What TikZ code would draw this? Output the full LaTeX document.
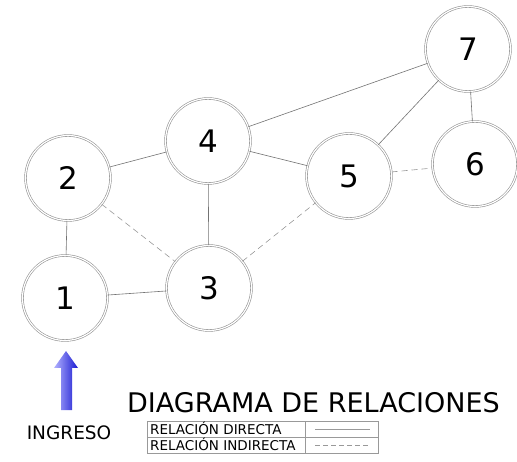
\documentclass[tikz,border=0pt]{standalone}
\usepackage{fontspec}
\setmainfont{DejaVu Sans}
\begin{document}
\begin{tikzpicture}[x=1pt,y=-1pt,
  nodo/.style={circle,draw=gray!85,line width=0.6pt,double=white,double distance=1.2pt,minimum size=85pt,inner sep=0pt,font=\fontsize{31}{31}\selectfont},
  directa/.style={draw=gray!90!black,line width=0.6pt},
  indirecta/.style={draw=gray!80,line width=0.6pt,dash pattern=on 6pt off 4pt},
  tabla/.style={draw=gray!80,line width=0.6pt}]
\useasboundingbox (0,0) rectangle (517,462);
\node[nodo] (n1) at (65,298) {1};
\node[nodo] (n2) at (68,178) {2};
\node[nodo] (n3) at (209,288) {3};
\node[nodo] (n4) at (208,141) {4};
\node[nodo] (n5) at (349,176) {5};
\node[nodo] (n6) at (475,164) {6};
\node[nodo] (n7) at (468,49) {7};
\draw[directa] (n1) -- (n2);
\draw[directa] (n1) -- (n3);
\draw[directa] (n2) -- (n4);
\draw[directa] (n4) -- (n3);
\draw[directa] (n4) -- (n5);
\draw[directa] (n4) -- (n7);
\draw[directa] (n5) -- (n7);
\draw[directa] (n7) -- (n6);
\draw[indirecta] (n2) -- (n3);
\draw[indirecta] (n3) -- (n5);
\draw[indirecta] (n5) -- (n6);
% arrow
\shade[left color=blue!30!white,right color=blue!80!black!90!white]
  (61,410) -- (61,368) -- (54,368) -- (66,351) -- (78,368) -- (72,368) -- (72,410) -- cycle;
\node[anchor=base,font=\fontsize{18.5}{18.5}\selectfont,inner sep=0pt] (ingreso) at (69,439) {INGRESO};
\node[anchor=base west,font=\fontsize{27}{27}\selectfont,inner sep=0pt] (titulo) at (127,413) {DIAGRAMA DE RELACIONES};
% table
\draw[tabla] (147,421) rectangle (378,453);
\draw[tabla] (147,437) -- (378,437);
\draw[tabla] (305,421) -- (305,453);
\node[anchor=base west,font=\fontsize{13.5}{13.5}\selectfont,inner sep=0pt] (t1) at (150,434) {RELACIÓN DIRECTA};
\node[anchor=base west,font=\fontsize{13.5}{13.5}\selectfont,inner sep=0pt] (t2) at (150,450) {RELACIÓN INDIRECTA};
\coordinate (a1) at (315,429);
\coordinate (b1) at (370,429);
\coordinate (a2) at (315,445);
\coordinate (b2) at (370,445);
\draw[draw=gray!80,line width=0.5pt] (a1) -- (b1);
\draw[draw=gray!80,line width=0.5pt,dash pattern=on 5pt off 3pt] (a2) -- (b2);
\end{tikzpicture}
\end{document}
